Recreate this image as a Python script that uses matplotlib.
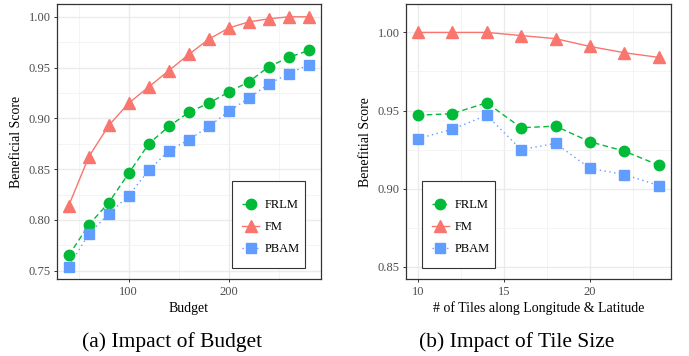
import numpy as np
import matplotlib.pyplot as plt
from matplotlib.ticker import MultipleLocator
from matplotlib.patches import Rectangle

plt.rcParams['font.family'] = ['Liberation Serif', 'DejaVu Serif']

# (a) impact of budget
budget = [40, 60, 80, 100, 120, 140, 160, 180, 200, 220, 240, 260, 280]
frlm_a = [0.765, 0.795, 0.817, 0.846, 0.875, 0.892, 0.906, 0.915, 0.926, 0.936, 0.951, 0.960, 0.967]
fm_a = [0.814, 0.862, 0.893, 0.915, 0.931, 0.947, 0.963, 0.978, 0.989, 0.995, 0.998, 1.000, 1.000]
pbam_a = [0.754, 0.786, 0.806, 0.824, 0.849, 0.868, 0.879, 0.892, 0.907, 0.920, 0.934, 0.944, 0.953]

# (b) impact of tile size
tiles = [10, 12, 14, 16, 18, 20, 22, 24]
frlm_b = [0.947, 0.948, 0.955, 0.939, 0.940, 0.930, 0.924, 0.915]
fm_b = [1.000, 1.000, 1.000, 0.998, 0.996, 0.991, 0.987, 0.984]
pbam_b = [0.932, 0.938, 0.947, 0.925, 0.929, 0.913, 0.909, 0.902]

green = "#00BA38"
red = "#F8766D"
blue = "#619CFF"

W, H = 689, 356
fig = plt.figure(figsize=(W / 100, H / 100), dpi=100)


def make_axes(x0, x1, y0, y1):
    return fig.add_axes([x0 / W, 1 - y1 / H, (x1 - x0) / W, (y1 - y0) / H])


def style(ax):
    ax.set_facecolor("white")
    ax.grid(which="major", color="#EBEBEB", linewidth=1.0)
    ax.grid(which="minor", color="#F2F2F2", linewidth=0.6)
    ax.set_axisbelow(True)
    for s in ax.spines.values():
        s.set_color("#333333")
        s.set_linewidth(0.9)
    ax.tick_params(which="major", length=2.5, width=0.7, color="#333333",
                   labelsize=9, labelcolor="#4D4D4D", pad=2)
    ax.tick_params(which="minor", length=0)


def draw(ax, x, f, m, p, box):
    # box = pixel coords of the legend frame (x0, x1, y0, y1)
    ax.plot(x, f, color=green, linestyle=(0, (4, 2.5)), linewidth=1.0,
            marker="o", markersize=7.5, label="FRLM")
    ax.plot(x, m, color=red, linestyle="-", linewidth=1.0,
            marker="^", markersize=8.5, label="FM")
    ax.plot(x, p, color=blue, linestyle=(0, (1, 2.5)), linewidth=1.0,
            marker="s", markersize=7.5, label="PBAM")
    x0, x1, y0, y1 = box
    frame = Rectangle((x0 / W, 1 - y1 / H), (x1 - x0) / W, (y1 - y0) / H,
                      transform=fig.transFigure, facecolor="white",
                      edgecolor="#333333", linewidth=0.8, zorder=4)
    ax.add_artist(frame)
    leg = ax.legend(loc="center left", fontsize=9, frameon=False,
                    handlelength=1.35, handletextpad=0.45, labelspacing=0.8,
                    borderpad=0, borderaxespad=0,
                    bbox_to_anchor=((x0 + 10) / W, 1 - 227 / H),
                    bbox_transform=fig.transFigure)
    leg.set_zorder(5)
    return leg


ax1 = make_axes(56.7, 321, 4.3, 279.3)
style(ax1)
draw(ax1, budget, frlm_a, fm_a, pbam_a, (232.3, 305, 180.7, 268.3))
ax1.set_xlim(28, 292)
ax1.set_ylim(0.7415, 1.0123)
ax1.xaxis.set_major_locator(MultipleLocator(100))
ax1.xaxis.set_minor_locator(MultipleLocator(50))
ax1.yaxis.set_major_locator(MultipleLocator(0.05))
ax1.yaxis.set_minor_locator(MultipleLocator(0.025))
ax1.yaxis.set_major_formatter(plt.FormatStrFormatter("%.2f"))
ax1.set_xlabel("Budget", fontsize=10, labelpad=3)
ax1.set_ylabel("Beneficial Score", fontsize=10, labelpad=4)

ax2 = make_axes(405.7, 671, 4.3, 279.3)
style(ax2)
draw(ax2, tiles, frlm_b, fm_b, pbam_b, (422, 495, 180.7, 268.3))
ax2.set_xlim(9.3, 24.7)
ax2.set_ylim(0.842, 1.018)
ax2.xaxis.set_major_locator(MultipleLocator(5))
ax2.xaxis.set_minor_locator(MultipleLocator(2.5))
ax2.yaxis.set_major_locator(MultipleLocator(0.05))
ax2.yaxis.set_minor_locator(MultipleLocator(0.025))
ax2.yaxis.set_major_formatter(plt.FormatStrFormatter("%.2f"))
ax2.set_xlabel("# of Tiles along Longitude & Latitude", fontsize=10, labelpad=3)
ax2.set_ylabel("Benefitial Score", fontsize=10, labelpad=4)

fig.text(172 / W, 1 - 342 / H, "(a) Impact of Budget", ha="center", va="center", fontsize=15.5)
fig.text(516.5 / W, 1 - 342 / H, "(b) Impact of Tile Size", ha="center", va="center", fontsize=15.5)

fig.savefig("out.png", dpi=100)
